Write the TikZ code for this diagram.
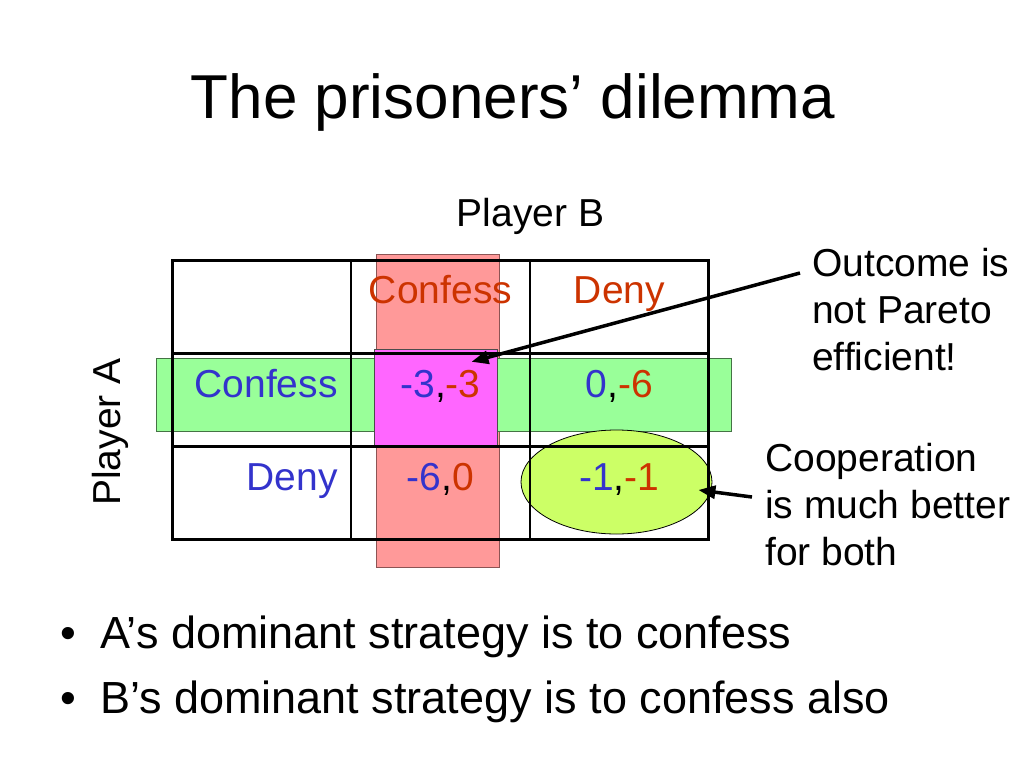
\documentclass[tikz,border=0pt]{standalone}
\usepackage{fontspec}
\setmainfont{Liberation Sans}
\usepackage{tikz}
\usetikzlibrary{matrix,shapes,arrows.meta,backgrounds}

\definecolor{pblue}{RGB}{51,51,204}
\definecolor{pred}{RGB}{204,51,0}
\definecolor{rowgreen}{RGB}{153,255,153}
\definecolor{colred}{RGB}{255,153,153}
\definecolor{nashpink}{RGB}{255,102,255}
\definecolor{coopyellow}{RGB}{204,255,102}

\newcommand{\payoff}[2]{\textcolor{pblue}{#1},\textcolor{pred}{#2}}

\begin{document}
\begin{tikzpicture}[x=1pt,y=-1pt]
      \tikzstyle{big} = [font=\fontsize{39}{47}\selectfont, inner sep=0pt]
      \tikzstyle{cell} = [rectangle, draw, line width=1.2pt, outer sep=0pt, inner sep=0pt,
        minimum width=177.7pt, minimum height=92pt, text height=28pt, text depth=34pt]
      \tikzstyle{bar} = [rectangle, line width=0.8pt, inner sep=0pt]
      \tikzstyle{pointer} = [line width=3.5pt, -{Triangle[length=17pt,width=13pt]}]
      \useasboundingbox (0,0) rectangle (1024,768);
      \node (title) [anchor=base, inner sep=0pt, font=\fontsize{62}{74}\selectfont] at (513,118) {The prisoners’ dilemma};
      \matrix (pay) [row sep=0pt, column sep=0pt, inner sep=0pt, nodes={cell, big}] at (440.5,400) {
        % header row
        \node (corner) {};&
        \node (hdConf) {\textcolor{pred}{Confess}};&
        \node (hdDeny) {\textcolor{pred}{Deny}};\\
        % A confesses
        \node (rwConf) [text width=152pt, align=right] {\textcolor{pblue}{Confess}};&
        \node (ccCC) {\payoff{-3}{-3}};&
        \node (ccCD) {\payoff{0}{-6}};\\
        % A denies
        \node (rwDeny) [text width=152pt, align=right] {\textcolor{pblue}{Deny}};&
        \node (ccDC) {\payoff{-6}{0}};&
        \node (ccDD) {\payoff{-1}{-1}};\\
      };
      \draw [line width=3pt] (corner.north west) rectangle (ccDD.south east);
      \begin{scope}[on background layer]
        \node (colConf) [bar, draw=colred!55!black, fill=colred, minimum width=123pt, minimum height=313pt] at (437.5,410.5) {};
        \node (rowConf) [bar, draw=rowgreen!45!black, fill=rowgreen, minimum width=575pt, minimum height=73pt] at (443.5,394.5) {};
        \node (nash) [bar, draw=black!70, fill=nashpink, minimum width=123pt, minimum height=97pt] at (435.5,397.5) {};
        \node (coop) [ellipse, draw, fill=coopyellow, line width=0.8pt, inner sep=0pt, minimum width=191pt, minimum height=104pt] at (616.5,482) {};
      \end{scope}
      \node (plB) [big, anchor=base] at ([yshift=34pt]hdDeny.north west) {Player B};
      \node (plA) [big, rotate=90, anchor=base] at (120,432) {Player A};
      \node (noteOut) [big, align=left, anchor=north west] at (812,248) {Outcome is\\not Pareto\\efficient!};
      \node (noteCoop) [big, align=left, anchor=north west] at (765,443) {Cooperation\\is much better\\for both};
      \draw [pointer] ([shift={(-12pt,-25pt)}]noteOut.north west)--([shift={(31pt,-9pt)}]hdConf.south);
      \draw [pointer] ([shift={(-13pt,-54pt)}]noteCoop.north west)--([shift={(-14pt,-8pt)}]coop.east);
      \node (bulA) [anchor=base west, inner sep=0pt, font=\fontsize{45}{54}\selectfont] at (100,648) {\llap{•\hspace{24pt}}A’s dominant strategy is to confess};
      \node (bulB) [anchor=base west, inner sep=0pt, font=\fontsize{45}{54}\selectfont] at (100,713) {\llap{•\hspace{24pt}}B’s dominant strategy is to confess also};
\end{tikzpicture}
\end{document}
